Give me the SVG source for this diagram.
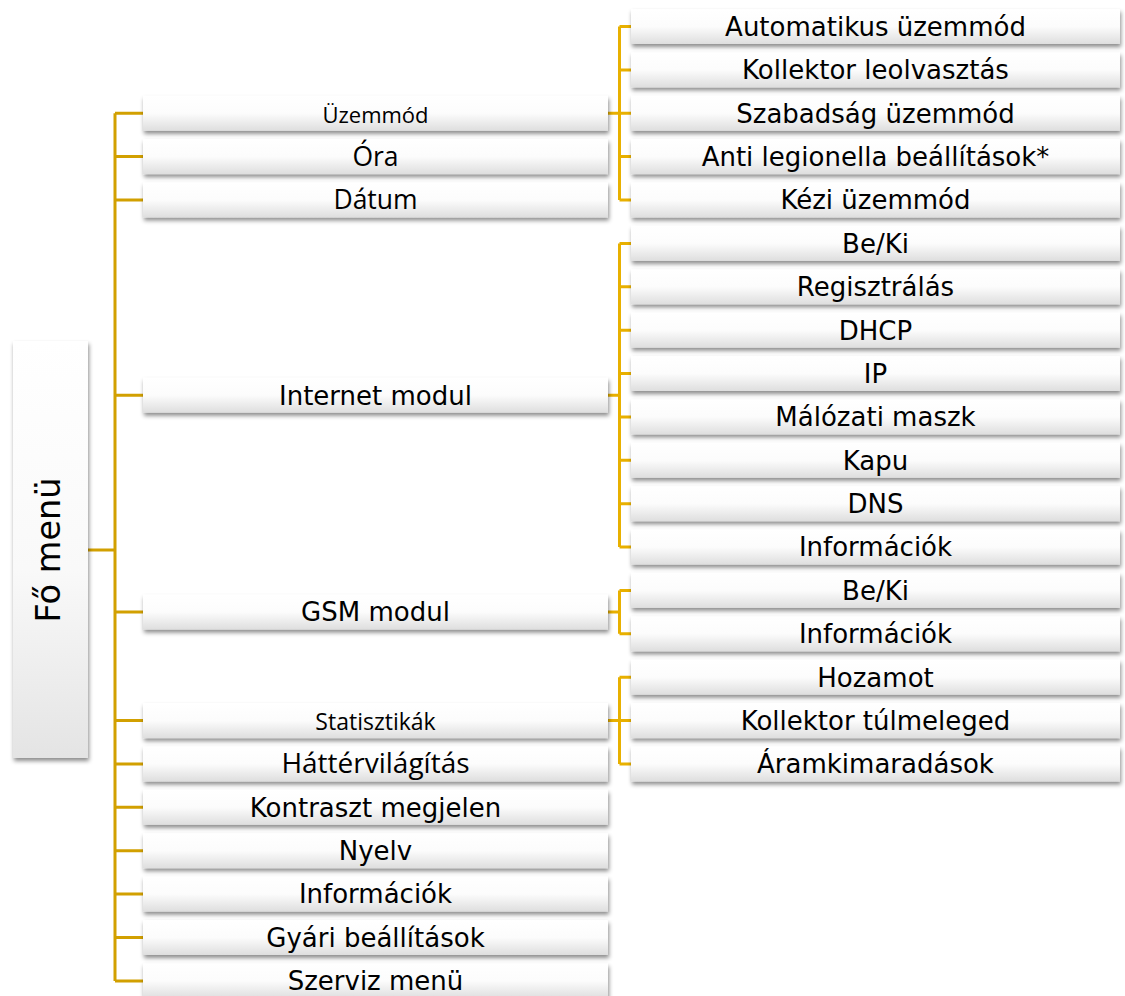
<svg xmlns="http://www.w3.org/2000/svg" width="1125" height="996" viewBox="0 0 1125 996">
<style>
.box{fill:url(#g);filter:url(#sh)}
.main{fill:url(#gm);filter:url(#sh)}
.t{font-family:"DejaVu Sans",Verdana,sans-serif;font-size:26px;fill:#000;text-anchor:middle}
.o{font-family:"Open Sans","Noto Sans",sans-serif;fill:#000;text-anchor:middle}
.c1{fill:none;stroke:#D2A000;stroke-width:3}
.c2{fill:none;stroke:#E8B000;stroke-width:3}
</style>
<defs>
<linearGradient id="g" x1="0" y1="0" x2="0" y2="1">
<stop offset="0" stop-color="#ffffff"/>
<stop offset="0.5" stop-color="#fcfcfc"/>
<stop offset="1" stop-color="#dedede"/>
</linearGradient>
<linearGradient id="gm" x1="0" y1="0" x2="0" y2="1">
<stop offset="0" stop-color="#ffffff"/>
<stop offset="0.55" stop-color="#f9f9f9"/>
<stop offset="1" stop-color="#e4e4e4"/>
</linearGradient>
<filter id="sh" x="-10%" y="-30%" width="120%" height="170%">
<feDropShadow dx="1" dy="3" stdDeviation="2" flood-color="#000" flood-opacity="0.45"/>
</filter>
</defs>
<rect width="1125" height="996" fill="#fff"/>

<g id="connectors">
<path class="c1" d="M88 550H115M115 113.3V980.9M115 113.3H143M115 156.6H143M115 200H143M115 395.2H143M115 612.1H143M115 720.6H143M115 764H143M115 807.3H143M115 850.7H143M115 894.1H143M115 937.5H143M115 980.9H143"/>
<path class="c2" d="M608 113.3H619.5M619.5 26.5V200M619.5 26.5H631M619.5 69.9H631M619.5 113.3H631M619.5 156.6H631M619.5 200H631"/>
<path class="c2" d="M608 395.2H619.5M619.5 243.4V547.1M619.5 243.4H631M619.5 286.8H631M619.5 330.2H631M619.5 373.5H631M619.5 416.9H631M619.5 460.3H631M619.5 503.7H631M619.5 547.1H631"/>
<path class="c2" d="M608 612.1H619.5M619.5 590.4V633.8M619.5 590.4H631M619.5 633.8H631"/>
<path class="c2" d="M608 720.6H619.5M619.5 677.2V764M619.5 677.2H631M619.5 720.6H631M619.5 764H631"/>
</g>

<g id="n-fomenu"><rect class="main" x="13" y="341" width="75" height="417"/><text class="t" style="font-size:33.5px" transform="translate(59.5,550) rotate(-90)">Fő menü</text></g>

<g id="n-uzemmod"><rect class="box" x="143" y="95.8" width="465" height="35"/><text class="o" style="font-size:22px" x="375.5" y="122.5">Üzemmód</text></g>
<g id="n-ora"><rect class="box" x="143" y="139.1" width="465" height="35"/><text class="o" style="font-size:26.5px" x="375.5" y="166">Óra</text></g>
<g id="n-datum"><rect class="box" x="143" y="182.5" width="465" height="35"/><text class="o" style="font-size:26.5px" x="375.5" y="209.3">Dátum</text></g>
<g id="n-internet"><rect class="box" x="143" y="377.7" width="465" height="35"/><text class="t" x="375.5" y="404.5">Internet modul</text></g>
<g id="n-gsm"><rect class="box" x="143" y="594.6" width="465" height="35"/><text class="t" x="375.5" y="621.4">GSM modul</text></g>
<g id="n-stat"><rect class="box" x="143" y="703.1" width="465" height="35"/><text class="o" style="font-size:23px" x="375.5" y="729.5">Statisztikák</text></g>
<g id="n-hatter"><rect class="box" x="143" y="746.5" width="465" height="35"/><text class="o" style="font-size:28px" x="375.5" y="773.3">Háttérvilágítás</text></g>
<g id="n-kontraszt"><rect class="box" x="143" y="789.8" width="465" height="35"/><text class="t" x="375.5" y="816.6">Kontraszt megjelen</text></g>
<g id="n-nyelv"><rect class="box" x="143" y="833.2" width="465" height="35"/><text class="t" x="375.5" y="860">Nyelv</text></g>
<g id="n-info"><rect class="box" x="143" y="876.6" width="465" height="35"/><text class="t" x="375.5" y="903.4">Információk</text></g>
<g id="n-gyari"><rect class="box" x="143" y="920" width="465" height="35"/><text class="t" x="375.5" y="946.8">Gyári beállítások</text></g>
<g id="n-szerviz"><rect class="box" x="143" y="963.4" width="465" height="35"/><text class="t" x="375.5" y="990.2">Szerviz menü</text></g>

<g id="n-auto"><rect class="box" x="631" y="9" width="489" height="35"/><text class="t" x="875.5" y="35.8">Automatikus üzemmód</text></g>
<g id="n-kolleolv"><rect class="box" x="631" y="52.4" width="489" height="35"/><text class="t" x="875.5" y="79.2">Kollektor leolvasztás</text></g>
<g id="n-szabad"><rect class="box" x="631" y="95.8" width="489" height="35"/><text class="t" x="875.5" y="122.6">Szabadság üzemmód</text></g>
<g id="n-anti"><rect class="box" x="631" y="139.1" width="489" height="35"/><text class="t" x="875.5" y="165.9">Anti legionella beállítások*</text></g>
<g id="n-kezi"><rect class="box" x="631" y="182.5" width="489" height="35"/><text class="t" x="875.5" y="209.3">Kézi üzemmód</text></g>
<g id="n-beki1"><rect class="box" x="631" y="225.9" width="489" height="35"/><text class="t" x="875.5" y="252.7">Be/Ki</text></g>
<g id="n-regisz"><rect class="box" x="631" y="269.3" width="489" height="35"/><text class="t" x="875.5" y="296.1">Regisztrálás</text></g>
<g id="n-dhcp"><rect class="box" x="631" y="312.7" width="489" height="35"/><text class="t" x="875.5" y="339.5">DHCP</text></g>
<g id="n-ip"><rect class="box" x="631" y="356" width="489" height="35"/><text class="t" x="875.5" y="382.8">IP</text></g>
<g id="n-maszk"><rect class="box" x="631" y="399.4" width="489" height="35"/><text class="t" x="875.5" y="426.2">Málózati maszk</text></g>
<g id="n-kapu"><rect class="box" x="631" y="442.8" width="489" height="35"/><text class="t" x="875.5" y="469.6">Kapu</text></g>
<g id="n-dns"><rect class="box" x="631" y="486.2" width="489" height="35"/><text class="t" x="875.5" y="513">DNS</text></g>
<g id="n-info1"><rect class="box" x="631" y="529.6" width="489" height="35"/><text class="t" x="875.5" y="556.4">Információk</text></g>
<g id="n-beki2"><rect class="box" x="631" y="572.9" width="489" height="35"/><text class="t" x="875.5" y="599.7">Be/Ki</text></g>
<g id="n-info2"><rect class="box" x="631" y="616.3" width="489" height="35"/><text class="t" x="875.5" y="643.1">Információk</text></g>
<g id="n-hozamot"><rect class="box" x="631" y="659.7" width="489" height="35"/><text class="t" x="875.5" y="686.5">Hozamot</text></g>
<g id="n-kolltul"><rect class="box" x="631" y="703.1" width="489" height="35"/><text class="t" x="875.5" y="729.9">Kollektor túlmeleged</text></g>
<g id="n-aram"><rect class="box" x="631" y="746.5" width="489" height="35"/><text class="t" x="875.5" y="773.3">Áramkimaradások</text></g>
</svg>
